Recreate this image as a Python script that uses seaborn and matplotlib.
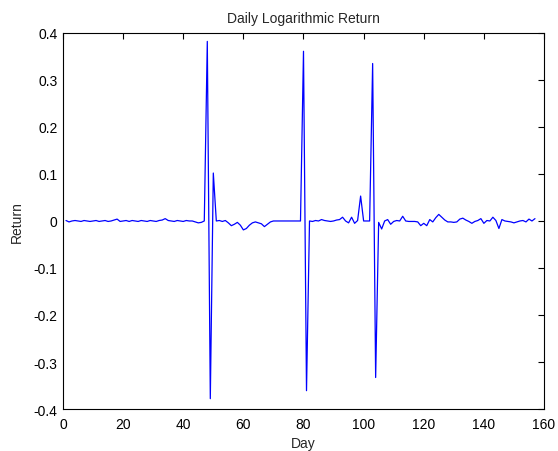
import numpy as np
import pandas as pd
import matplotlib
matplotlib.use("Agg")
import matplotlib.pyplot as plt
from matplotlib.ticker import MultipleLocator
import seaborn as sns

# daily log returns, day 1..157
returns = [
    0.001, -0.002, 0.000, 0.001, 0.000, -0.001, 0.001, 0.000, -0.001, 0.000,
    0.001, -0.001, 0.000, 0.001, -0.001, 0.000, 0.002, 0.004, -0.001, 0.000,
    0.001, -0.001, 0.001, 0.000, -0.001, 0.001, 0.000, -0.001, 0.001, 0.000,
    -0.001, 0.001, 0.002, 0.005, 0.001, 0.000, -0.001, 0.001, 0.000, -0.001,
    0.001, 0.000, 0.000, -0.002, -0.004, -0.003, 0.000,
    0.382, -0.378, 0.102, 0.000, 0.001, -0.001, 0.001, -0.004, -0.010,
    -0.007, -0.003, -0.009, -0.019, -0.016, -0.009, -0.004, -0.002, -0.004, -0.006,
    -0.012, -0.007, -0.002,
    0.000, 0.000, 0.000, 0.000, 0.000, 0.000, 0.000, 0.000, 0.000, 0.000,
    0.361, -0.361, 0.000, -0.001, 0.001, 0.000, 0.003, 0.001, 0.000, -0.001, 0.000,
    0.002, 0.003, 0.008, 0.000, -0.004, 0.008, -0.005, 0.001, 0.053, 0.000,
    0.000, 0.000, 0.335, -0.333, -0.003, -0.017, 0.000, 0.003, -0.007, -0.001,
    0.001, 0.000, 0.010, 0.000, -0.001, -0.001, -0.001, -0.002, -0.010, -0.005,
    -0.010, 0.003, -0.002, 0.007, 0.014, 0.008, 0.002, -0.002, -0.002, -0.003,
    -0.002, 0.004, 0.006, 0.002, -0.001, -0.005, -0.001, 0.001, 0.005, -0.005,
    0.001, 0.000, 0.008, 0.001, -0.016, 0.003, 0.000, -0.001, -0.002, -0.004,
    -0.002, 0.000, 0.001, -0.002, 0.004, 0.000, 0.005,
]
days = list(range(1, len(returns) + 1))

y_ticks = [-0.4, -0.3, -0.2, -0.1, 0, 0.1, 0.2, 0.3, 0.4]
y_tick_labels = ['-0.4', '-0.3', '-0.2', '-0.1', '0', '0.1', '0.2', '0.3', '0.4']

df = pd.DataFrame({"Day": days, "Return": returns})

sns.set_theme(style="white")
plt.rcParams['font.family'] = ['Liberation Sans', 'DejaVu Sans']

fig = plt.figure(figsize=(5.58, 4.52), dpi=100)
ax = fig.add_axes([0.1129, 0.0929, 0.862, 0.832])

sns.lineplot(data=df, x="Day", y="Return", color="#0000ff", linewidth=0.9, ax=ax)

ax.set_xlim(0, 160)
ax.set_ylim(-0.4, 0.4)
ax.xaxis.set_major_locator(MultipleLocator(20))
ax.set_yticks(y_ticks)
ax.set_yticklabels(y_tick_labels)

ax.tick_params(direction='in', length=4, width=0.8, top=True, right=True,
               labelsize=10, colors='black')
ax.tick_params(axis='x', pad=6)
ax.tick_params(axis='y', pad=4)
for s in ax.spines.values():
    s.set_color('black')
    s.set_linewidth(0.8)

ax.set_title("Daily Logarithmic Return", fontsize=10, pad=8)
ax.set_xlabel("Day", fontsize=10, labelpad=3)
ax.set_ylabel("Return", fontsize=10, labelpad=7)

fig.savefig("out.png", dpi=100, facecolor='white')
